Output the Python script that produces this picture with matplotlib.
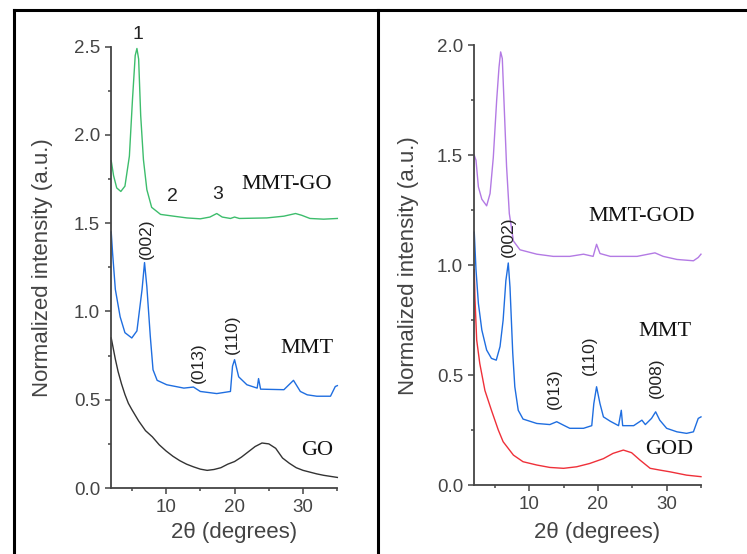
import matplotlib
matplotlib.use("Agg")
import matplotlib.pyplot as plt
from matplotlib.lines import Line2D
from matplotlib.ticker import MultipleLocator, FormatStrFormatter

# ---------------------------------------------------------------------------
# Data (2theta in degrees, normalized intensity)
# ---------------------------------------------------------------------------
# left panel
GO_X = [2, 2.3, 2.6, 3, 3.5, 4, 4.5, 5, 6, 7, 8, 9, 10, 11, 12, 13, 14, 15, 16, 17,
        18, 19, 20, 21, 22, 23, 24, 25, 26, 27, 28, 29, 30, 31, 32, 33, 34, 35]
GO_Y = [0.85, 0.79, 0.73, 0.66, 0.59, 0.53, 0.48, 0.445, 0.38, 0.325, 0.29, 0.245, 0.21,
        0.18, 0.155, 0.135, 0.12, 0.107, 0.10, 0.105, 0.115, 0.135, 0.15, 0.175, 0.205,
        0.235, 0.255, 0.25, 0.225, 0.17, 0.14, 0.115, 0.10, 0.09, 0.08, 0.072, 0.066, 0.06]

MMT_L_X = [2, 2.2, 2.6, 3.3, 4.0, 5.0, 5.75, 6.5, 6.86, 7.2, 7.7, 8.1, 8.7, 10.1, 12.6,
           14.0, 15.0, 17.4, 19.4, 19.7, 20.0, 20.6, 21.8, 23.3, 23.5, 23.8, 27.2, 28.6,
           29.6, 30.6, 32.0, 34.0, 34.7, 35.0]
MMT_L_Y = [1.45, 1.33, 1.125, 0.97, 0.88, 0.85, 0.89, 1.125, 1.277, 1.14, 0.86, 0.67, 0.61,
           0.585, 0.566, 0.572, 0.547, 0.535, 0.547, 0.69, 0.727, 0.63, 0.585, 0.566, 0.62,
           0.56, 0.557, 0.61, 0.547, 0.528, 0.52, 0.52, 0.575, 0.58]

MMTGO_X = [2, 2.34, 2.8, 3.4, 4.0, 4.65, 5.1, 5.5, 5.75, 6.0, 6.3, 6.7, 7.2, 7.9, 9.2,
           11.1, 13.05, 15.0, 16.4, 17.4, 18.2, 19.4, 20.0, 20.7, 24.7, 27.2, 28.9, 29.8,
           31.0, 33.0, 35.0]
MMTGO_Y = [1.854, 1.77, 1.70, 1.68, 1.71, 1.88, 2.20, 2.45, 2.49, 2.43, 2.11, 1.86, 1.69,
           1.59, 1.55, 1.54, 1.53, 1.525, 1.535, 1.555, 1.535, 1.527, 1.535, 1.527, 1.53,
           1.54, 1.555, 1.545, 1.527, 1.523, 1.527]

# right panel
GOD_X = [2, 2.1, 2.35, 2.8, 3.55, 4.5, 5.5, 6.2, 7.7, 9.1, 11.1, 13.0, 15.0, 16.9, 18.8,
         20.8, 22.2, 23.7, 24.9, 26.1, 27.6, 29.0, 30.5, 32.9, 35.0]
GOD_Y = [0.98, 0.85, 0.66, 0.553, 0.43, 0.34, 0.25, 0.197, 0.136, 0.106, 0.091, 0.08,
         0.076, 0.083, 0.098, 0.12, 0.144, 0.159, 0.147, 0.114, 0.076, 0.068, 0.06, 0.045,
         0.038]

MMT_R_X = [2, 2.25, 2.6, 3.1, 3.8, 4.5, 5.2, 5.75, 6.2, 6.6, 6.95, 7.2, 7.6, 7.9, 8.4,
           9.1, 11.1, 13.0, 14.0, 15.0, 15.9, 17.9, 19.1, 19.4, 19.8, 20.3, 20.8, 21.8,
           23.0, 23.4, 23.6, 25.2, 26.4, 26.9, 27.8, 28.4, 29.0, 30.0, 31.5, 32.9, 33.9,
           34.6, 35.0]
MMT_R_Y = [1.15, 0.98, 0.826, 0.705, 0.614, 0.576, 0.568, 0.63, 0.75, 0.93, 1.01, 0.90,
           0.60, 0.447, 0.34, 0.30, 0.28, 0.275, 0.288, 0.272, 0.258, 0.258, 0.27, 0.37,
           0.447, 0.37, 0.31, 0.29, 0.27, 0.34, 0.27, 0.27, 0.295, 0.275, 0.303, 0.333,
           0.295, 0.258, 0.242, 0.235, 0.242, 0.303, 0.31]

MMTGOD_X = [2, 2.25, 2.6, 3.1, 3.8, 4.3, 4.77, 5.26, 5.6, 5.84, 6.08, 6.32, 6.7, 7.1, 7.7,
            8.65, 11.1, 13.5, 15.9, 17.9, 19.3, 19.8, 20.3, 21.8, 25.7, 28.3, 29.5, 31.5,
            33.9, 34.6, 35.0]
MMTGOD_Y = [1.50, 1.477, 1.356, 1.30, 1.27, 1.326, 1.49, 1.75, 1.90, 1.97, 1.94, 1.75,
            1.45, 1.235, 1.11, 1.07, 1.05, 1.04, 1.04, 1.05, 1.04, 1.095, 1.053, 1.04, 1.04,
            1.056, 1.04, 1.026, 1.02, 1.035, 1.05]

# colours
C_GO = "#333333"
C_MMT = "#1f6ee0"
C_MMTGO = "#3dbd6c"
C_GOD = "#ef3039"
C_MMTGOD = "#b37ae4"

SANS = ["Liberation Sans", "DejaVu Sans"]
SERIF = ["Liberation Serif", "DejaVu Serif"]
TXT = "#444444"

fig = plt.figure(figsize=(7.47, 5.54), dpi=100)
ax_l = fig.add_axes([0.1489, 0.1191, 0.3027, 0.7966])
ax_r = fig.add_axes([0.6349, 0.1245, 0.3035, 0.7937])


def style(ax, ymax):
    ax.set_xlim(2, 35)
    ax.set_ylim(0, ymax)
    for s in ("top", "right"):
        ax.spines[s].set_visible(False)
    for s in ("left", "bottom"):
        ax.spines[s].set_color("#444444")
        ax.spines[s].set_linewidth(1.3)
    ax.xaxis.set_major_locator(MultipleLocator(10))
    ax.xaxis.set_minor_locator(MultipleLocator(5))
    ax.yaxis.set_major_locator(MultipleLocator(0.5))
    ax.yaxis.set_minor_locator(MultipleLocator(0.25))
    ax.yaxis.set_major_formatter(FormatStrFormatter("%.1f"))
    ax.tick_params(which="major", length=4.5, width=1.1, color="#444444",
                   labelcolor=TXT, labelsize=13.5, pad=3.5)
    ax.tick_params(which="minor", length=2.5, width=1.1, color="#444444")
    for lab in ax.get_xticklabels() + ax.get_yticklabels():
        lab.set_family(SANS)
    ax.set_xlabel("2θ (degrees)", fontsize=16, family=SANS, color=TXT)
    ax.set_ylabel("Normalized intensity (a.u.)", fontsize=16, family=SANS, color=TXT)
    ax.xaxis.label.set_va("center")
    ax.yaxis.label.set_va("center")


style(ax_l, 2.5)
style(ax_r, 2.0)
ax_l.xaxis.set_label_coords(0.543, -0.0997)
ax_r.xaxis.set_label_coords(0.54, -0.107)
ax_l.yaxis.set_label_coords(-0.306, 0.5)
ax_r.yaxis.set_label_coords(-0.292, 0.5)

lw = 1.0
ax_l.plot(GO_X, GO_Y, color=C_GO, lw=lw, clip_on=False)
ax_l.plot(MMT_L_X, MMT_L_Y, color=C_MMT, lw=lw, clip_on=False)
ax_l.plot(MMTGO_X, MMTGO_Y, color=C_MMTGO, lw=lw, clip_on=False)

ax_r.plot(GOD_X, GOD_Y, color=C_GOD, lw=lw, clip_on=False)
ax_r.plot(MMT_R_X, MMT_R_Y, color=C_MMT, lw=lw, clip_on=False)
ax_r.plot(MMTGOD_X, MMTGOD_Y, color=C_MMTGOD, lw=lw, clip_on=False)

# annotations, left
for x, y, t in [(5.9, 2.57, "1"), (11.0, 1.65, "2"), (17.5, 1.66, "3")]:
    ax_l.text(x, y, t, ha="center", va="center", fontsize=14, family=SANS,
              color="#222222", clip_on=False)
for x, y, t in [(7.2, 1.41, "(002)"), (14.7, 0.71, "(013)"), (19.7, 0.87, "(110)")]:
    ax_l.text(x, y, t, ha="center", va="center", rotation=90, fontsize=12.5,
              family=SANS, color="#222222")
for x, y, t in [(27.6, 1.72, "MMT-GO"), (30.6, 0.79, "MMT"), (32.0, 0.21, "GO")]:
    ax_l.text(x, y, t, ha="center", va="center", fontsize=16, family=SERIF, color="#111111")

# annotations, right
for x, y, t in [(7.0, 1.13, "(002)"), (13.7, 0.44, "(013)"), (18.8, 0.59, "(110)"),
                (28.5, 0.49, "(008)")]:
    ax_r.text(x, y, t, ha="center", va="center", rotation=90, fontsize=12.5,
              family=SANS, color="#222222")
for x, y, t in [(26.4, 1.22, "MMT-GOD"), (29.8, 0.70, "MMT"), (30.3, 0.16, "GOD")]:
    ax_r.text(x, y, t, ha="center", va="center", fontsize=16, family=SERIF, color="#111111")

# outer frame
W, H = 747, 554
fy = 1 - 10 / H
fig.add_artist(Line2D([14 / W, 1.0], [fy, fy], color="black", lw=2.2))
fig.add_artist(Line2D([14 / W, 14 / W], [0, fy], color="black", lw=2.2))
fig.add_artist(Line2D([378 / W, 378 / W], [0, fy], color="black", lw=2.2))

fig.savefig("out.png", dpi=100)
